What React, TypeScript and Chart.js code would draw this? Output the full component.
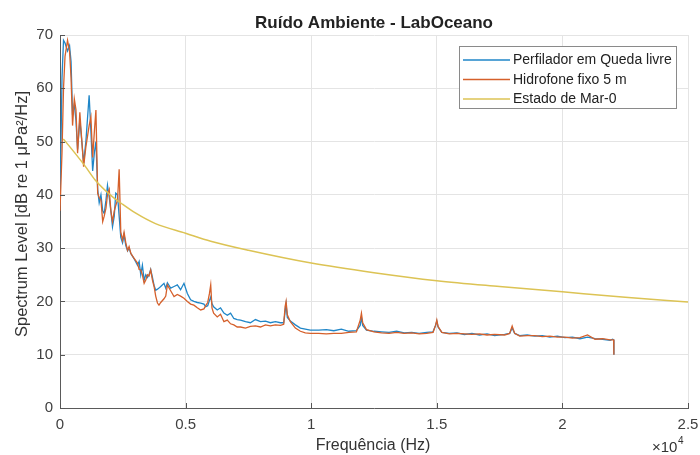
import React, { useEffect, useRef } from "react";
import { Chart, registerables } from "chart.js";

Chart.register(...registerables);

const FONT = "'Liberation Sans', Arial, Helvetica, sans-serif";

const chartTitle = "Ruído Ambiente - LabOceano";
const xAxisTitle = "Frequência (Hz)";
const yAxisTitle = "Spectrum Level [dB re 1 μPa²/Hz]";
const seriesNames = ["Perfilador em Queda livre", "Hidrofone fixo 5 m", "Estado de Mar-0"];
const seriesColors = ["#1f86c8", "#d5602b", "#dcc354"];

const xTickValues = [0, 5000, 10000, 15000, 20000, 25000];
const xTickLabels = ["0", "0.5", "1", "1.5", "2", "2.5"];
const yTickValues = [0, 10, 20, 30, 40, 50, 60, 70];

const freqHz = [
  0, 80, 140, 200, 300, 380, 440, 500, 570, 635, 700, 790, 870, 940, 1030, 1160, 1230, 1300, 1370, 1430,
  1500, 1560, 1630, 1700, 1760, 1830, 1890, 1960, 2025, 2090, 2160, 2220, 2290, 2355, 2420, 2490, 2550, 2620, 2690, 2750,
  2820, 2950, 3085, 3150, 3215, 3280, 3350, 3415, 3480, 3545, 3610, 3680, 3745, 3810, 3880, 3940, 4010, 4140, 4210, 4275,
  4405, 4540, 4670, 4800, 4935, 5070, 5200, 5330, 5465, 5600, 5730, 5800, 5880, 5950, 6000, 6050, 6115, 6260, 6390, 6525,
  6660, 6790, 6920, 7055, 7185, 7385, 7580, 7780, 7980, 8180, 8375, 8575, 8775, 8905, 8960, 9000, 9050, 9170, 9370, 9570,
  9765, 9965, 10300, 10600, 10900, 11200, 11500, 11800, 11950, 12000, 12050, 12200, 12500, 12800, 13100, 13400, 13700, 14000, 14300, 14600,
  14850, 14950, 15000, 15050, 15200, 15500, 15800, 16100, 16400, 16700, 17000, 17300, 17700, 17900, 18000, 18100, 18300, 18600, 18900, 19200,
  19500, 19800, 20100, 20400, 20700, 21000, 21300, 21600, 21900, 22000, 22040, 22050,
];

const perfilador = [
  38, 62, 69, 68.5, 67, 68, 65, 55, 57, 54, 48.5, 54, 50, 46, 50, 58.7, 52, 44.5, 48, 50,
  41, 38.5, 40, 37, 36.5, 39, 41.8, 39.5, 37, 34, 36, 40.3, 40, 36, 32, 31, 32.5, 30.5, 29.5, 30,
  29, 28, 26.8, 27.5, 25, 26.8, 24, 25, 24.5, 25, 26, 24.5, 23, 22.1, 22.3, 22.5, 22.8, 23.4, 22.5, 23.5,
  22.5, 22.8, 23.1, 22.2, 23.4, 21.5, 20.3, 20, 19.8, 19.7, 19.5, 19, 19.2, 20.2, 20.8, 19.6, 19, 18.4, 18.8, 17.8,
  17.4, 17.8, 16.8, 16.6, 16.5, 16.2, 16, 16.6, 16.2, 16.3, 16, 16.2, 16, 16, 18, 19.5, 17, 16.3, 15.6, 15,
  14.8, 14.6, 14.6, 14.7, 14.5, 14.8, 14.4, 14.5, 15.5, 17, 15.5, 14.6, 14.4, 14.3, 14.2, 14.4, 14.1, 14.2, 14, 14.2,
  14.3, 15.5, 16.3, 15.2, 14.2, 14, 14.1, 13.8, 14, 13.7, 13.9, 13.6, 13.8, 14, 15, 14, 13.6, 13.7, 13.5, 13.6,
  13.3, 13.5, 13.2, 13.3, 13, 13.3, 13, 12.9, 12.7, 12.9, 12.8, 10,
];

const hidrofone = [
  37, 48, 60, 66, 69, 67, 62, 53, 58, 56, 47.8, 55.5, 50, 45.3, 49, 53, 54.6, 47, 52, 55.9,
  40.3, 39.5, 39, 35, 36, 37.5, 40, 41, 37, 35, 37, 38, 39, 44.8, 33, 31.5, 33, 31, 29.6, 30.3,
  29, 28.1, 27.2, 26, 25.9, 25, 23.4, 24, 25, 24.8, 25.9, 24, 22.8, 21, 19.7, 19.3, 19.8, 20.5, 21, 23.1,
  22, 20.9, 21.3, 21, 20.6, 20, 19.5, 19.3, 18.8, 18.4, 18.6, 19.2, 19.8, 21.5, 23.1, 18.8, 17.8, 17.1, 17.6, 16.2,
  16.5, 15.8, 15.6, 15.2, 15.2, 15, 15.3, 15.4, 15.2, 15.6, 15.4, 15.6, 15.5, 15.7, 19, 20, 17.5, 16.2, 15, 14.4,
  14.1, 14, 14, 13.9, 14, 14, 14.2, 14.3, 16.5, 17.8, 16, 14.7, 14.3, 14.1, 14, 14.2, 14, 14.1, 13.9, 14,
  14.2, 15.5, 16.5, 15.3, 14.2, 13.9, 14, 13.9, 13.8, 13.9, 13.7, 13.8, 13.7, 14, 15.4, 14, 13.5, 13.6, 13.6, 13.4,
  13.5, 13.3, 13.3, 13.1, 13.2, 13.7, 12.9, 13, 12.8, 12.8, 12.8, 10,
];

const seaFreqHz = [130, 500, 1000, 1400, 2000, 2500, 3000, 3800, 5000, 6000, 7500, 10000, 12500, 15000, 17500, 20000, 22500, 25000];
const seaState0 = [50.5, 48.4, 45.4, 42.8, 40.0, 38.2, 36.6, 34.6, 32.8, 31.3, 29.6, 27.2, 25.4, 23.9, 22.8, 21.8, 20.8, 19.9];

const decorPlugin = {
  id: "decor",
  afterDraw(chart: any) {
    const { ctx, chartArea, scales } = chart;
    const ca = chartArea;
    ctx.save();

    // inward tick marks
    ctx.strokeStyle = "#555555";
    ctx.lineWidth = 1;
    for (const v of xTickValues) {
      const x = Math.round(scales.x.getPixelForValue(v)) + 0.5;
      ctx.beginPath();
      ctx.moveTo(x, ca.bottom);
      ctx.lineTo(x, ca.bottom - 5);
      ctx.stroke();
    }
    for (const v of yTickValues) {
      const y = Math.round(scales.y.getPixelForValue(v)) + 0.5;
      ctx.beginPath();
      ctx.moveTo(ca.left, y);
      ctx.lineTo(ca.left + 5, y);
      ctx.stroke();
    }

    // title
    ctx.fillStyle = "#222222";
    ctx.textAlign = "center";
    ctx.textBaseline = "alphabetic";
    ctx.font = `bold 17px ${FONT}`;
    ctx.fillText(chartTitle, (ca.left + ca.right) / 2, 28);

    // x axis title
    ctx.fillStyle = "#333333";
    ctx.font = `16px ${FONT}`;
    ctx.fillText(xAxisTitle, (ca.left + ca.right) / 2 - 1, 450);

    // x10^4 exponent
    ctx.textAlign = "left";
    ctx.font = `15px ${FONT}`;
    ctx.fillText("×10", 652, 452);
    const w = ctx.measureText("×10").width;
    ctx.font = `10px ${FONT}`;
    ctx.fillText("4", 652 + w + 0.5, 444);

    // y axis title
    ctx.save();
    ctx.translate(22, 214);
    ctx.rotate(-Math.PI / 2);
    ctx.textAlign = "center";
    ctx.textBaseline = "middle";
    ctx.font = `16.5px ${FONT}`;
    ctx.fillStyle = "#333333";
    ctx.fillText(yAxisTitle, 0, 0);
    ctx.restore();

    // legend
    const bx = 459.5, by = 46.5, bw = 217, bh = 62;
    ctx.fillStyle = "#ffffff";
    ctx.fillRect(bx, by, bw, bh);
    ctx.strokeStyle = "#8a8a8a";
    ctx.lineWidth = 1;
    ctx.strokeRect(bx, by, bw, bh);
    const rows = [60, 79.5, 99];
    ctx.font = `14px ${FONT}`;
    ctx.textAlign = "left";
    ctx.textBaseline = "middle";
    seriesNames.forEach((name, i) => {
      ctx.strokeStyle = seriesColors[i];
      ctx.lineWidth = 1.5;
      ctx.beginPath();
      ctx.moveTo(463, rows[i]);
      ctx.lineTo(510, rows[i]);
      ctx.stroke();
      ctx.fillStyle = "#222222";
      ctx.fillText(name, 513, rows[i] + 0.5);
    });

    ctx.restore();
  },
};

export default function App() {
  const canvasRef = useRef<HTMLCanvasElement | null>(null);

  useEffect(() => {
    if (!canvasRef.current) return;
    const chart = new Chart(canvasRef.current, {
      type: "line",
      data: {
        datasets: [
          {
            label: seriesNames[0],
            data: freqHz.map((f, i) => ({ x: f, y: perfilador[i] })),
            borderColor: seriesColors[0],
            borderWidth: 1.3,
            pointRadius: 0,
            tension: 0,
            order: 3,
          },
          {
            label: seriesNames[1],
            data: freqHz.map((f, i) => ({ x: f, y: hidrofone[i] })),
            borderColor: seriesColors[1],
            borderWidth: 1.3,
            pointRadius: 0,
            tension: 0,
            order: 2,
          },
          {
            label: seriesNames[2],
            data: seaFreqHz.map((f, i) => ({ x: f, y: seaState0[i] })),
            borderColor: seriesColors[2],
            borderWidth: 1.5,
            pointRadius: 0,
            cubicInterpolationMode: "monotone",
            order: 1,
          },
        ],
      },
      options: {
        animation: false,
        responsive: true,
        maintainAspectRatio: false,
        layout: { padding: { top: 35, right: 12, left: 0, bottom: 0 } },
        plugins: {
          legend: { display: false },
          tooltip: { enabled: false },
          title: { display: false },
        },
        scales: {
          x: {
            type: "linear",
            min: 0,
            max: 25000,
            afterFit: (s: any) => {
              s.height = 47;
              s.paddingLeft = 0;
              s.paddingRight = 0;
            },
            afterBuildTicks: (s: any) => {
              s.ticks = xTickValues.map((v) => ({ value: v }));
            },
            ticks: {
              autoSkip: false,
              maxRotation: 0,
              padding: 8,
              color: "#404040",
              font: { size: 15, family: FONT },
              callback: (v: any) => {
                const idx = xTickValues.indexOf(Number(v));
                return idx >= 0 ? xTickLabels[idx] : "";
              },
            },
            grid: { color: "#e4e4e4", lineWidth: 1, drawTicks: false },
            border: { display: true, color: "#5a5a5a", width: 1 },
          },
          y: {
            type: "linear",
            min: 0,
            max: 70,
            afterFit: (s: any) => {
              s.width = 60;
              s.paddingTop = 0;
              s.paddingBottom = 0;
            },
            afterBuildTicks: (s: any) => {
              s.ticks = yTickValues.map((v) => ({ value: v }));
            },
            ticks: {
              padding: 7,
              color: "#404040",
              font: { size: 15, family: FONT },
            },
            grid: { color: "#e4e4e4", lineWidth: 1, drawTicks: false },
            border: { display: true, color: "#5a5a5a", width: 1 },
          },
        },
      },
      plugins: [decorPlugin],
    });
    return () => chart.destroy();
  }, []);

  return (
    <div style={{ position: "absolute", left: 0, top: 0, width: 700, height: 455, background: "#ffffff" }}>
      <canvas ref={canvasRef} />
    </div>
  );
}
